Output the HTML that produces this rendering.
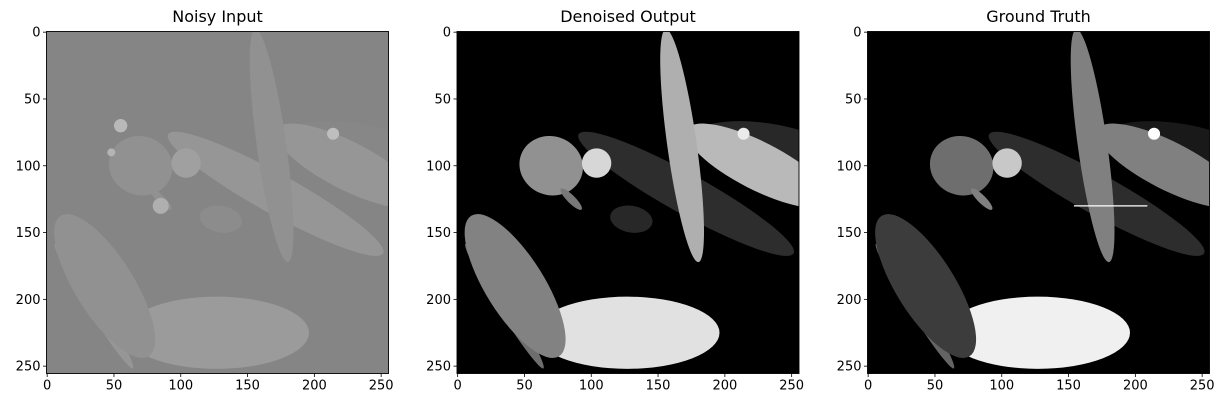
<!DOCTYPE html>
<html><head><meta charset="utf-8"><style>
body{margin:0;background:#fff;width:1224px;height:407px;overflow:hidden}
svg text{font-family:"DejaVu Sans","Liberation Sans",sans-serif;fill:#000}
</style></head><body>
<svg id="fig" width="1224" height="407" viewBox="0 0 1224 407" xmlns="http://www.w3.org/2000/svg"></svg>
<script>
const panelTitles = ["Noisy Input", "Denoised Output", "Ground Truth"];
const panelLeft = [46.5, 457, 867.5];
const tickValues = [0, 50, 100, 150, 200, 250];
const imageSize = 256;
// shapes: [cx, cy, rx, ry, angle, noisyGray, denoisedGray, truthGray]
const shapeCx = [127, 43, 35, 168, 171, 230, 225, 70, 104, 85, 130, 214, 55, 48, 85];
const shapeCy = [225, 190, 205, 85, 121, 86, 100, 100, 98, 125, 140, 76, 70, 90, 130];
const shapeRx = [69, 62, 55, 88, 92, 55, 60, 24, 11, 11, 16, 4.5, 5, 3, 6];
const shapeRy = [27, 22, 5, 11, 15, 18, 18, 22, 11, 3, 10, 4.5, 5, 3, 6];
const shapeAngle = [0, 58, 58, 82, 29, 8, 27, 20, 0, 45, 10, 0, 0, 0, 0];
const noisyGray = [155, 145, 150, 145, 150, 135, 150, 145, 160, 145, 140, 190, 185, 180, 175];
const denoisedGray = [225, 130, 110, 175, 45, 40, 185, 145, 215, 120, 40, 235, 60, 50, 60];
const truthGray = [240, 60, 100, 128, 45, 25, 128, 110, 200, 128, 0, 255, 0, 0, 0];
const drawOrder = [0, 2, 1, 4, 5, 6, 3, 7, 8, 9, 10, 11, 12, 13, 14];
const bgGray = [133, 0, 0];
const NS = "http://www.w3.org/2000/svg";
const fig = document.getElementById("fig");
const top0 = 31.5, size = 342;
function sc(v){ return (v + 0.5) * size / imageSize; }
function mk(tag, attrs, parent){ const e = document.createElementNS(NS, tag); for (const k in attrs) e.setAttribute(k, attrs[k]); parent.appendChild(e); return e; }
const grays = [noisyGray, denoisedGray, truthGray];
panelTitles.forEach((t, p) => {
  const L = panelLeft[p];
  const g = mk("g", {}, fig);
  
  
  const clipId = "clip" + p;
  const cp = mk("clipPath", {id: clipId}, g);
  mk("rect", {x: L, y: top0, width: size, height: size}, cp);
  const img = mk("g", {"clip-path": "url(#" + clipId + ")"}, g);
  
  
  const b = bgGray[p];
  const bg = mk("rect", {x: L, y: top0, width: size, height: size, fill: "rgb(" + b + "," + b + "," + b + ")"}, img);
  
  
  drawOrder.forEach(i => {
    const v = grays[p][i];
    if (p === 2 && v === 0) return;
    if (p !== 0 && i >= 12) return;
    const cx = L + sc(shapeCx[i]), cy = top0 + sc(shapeCy[i]);
    const e = mk("ellipse", {cx: cx, cy: cy, rx: shapeRx[i] * size / imageSize, ry: shapeRy[i] * size / imageSize,
      transform: "rotate(" + shapeAngle[i] + " " + cx + " " + cy + ")", fill: "rgb(" + v + "," + v + "," + v + ")"}, img);
    
    
  });
  if (p === 2) {
    const ln = mk("line", {x1: L + sc(154), x2: L + sc(209), y1: top0 + sc(130), y2: top0 + sc(130), stroke: "#fff", "stroke-width": 1.2}, img);
    
    
  }
  const fr = mk("rect", {x: L, y: top0, width: size, height: size, fill: "none", stroke: "#000", "stroke-width": 0.9}, g);
  
  
  const tt = mk("text", {x: L + size / 2, y: 22, "font-size": 16, "text-anchor": "middle"}, g);
  tt.textContent = t;
  
  
  tickValues.forEach(v => {
    const x = L + sc(v), y = top0 + sc(v);
    mk("line", {x1: x, x2: x, y1: top0 + size, y2: top0 + size + 3.5, stroke: "#000", "stroke-width": 0.8}, g);
    const xl = mk("text", {x: x, y: top0 + size + 16, "font-size": 13, "text-anchor": "middle"}, g);
    xl.textContent = v;
    
    
    mk("line", {x1: L - 3.5, x2: L, y1: y, y2: y, stroke: "#000", "stroke-width": 0.8}, g);
    const yl = mk("text", {x: L - 6, y: y + 4.5, "font-size": 13, "text-anchor": "end"}, g);
    yl.textContent = v;
    
    
  });
});
</script>
</body></html>
